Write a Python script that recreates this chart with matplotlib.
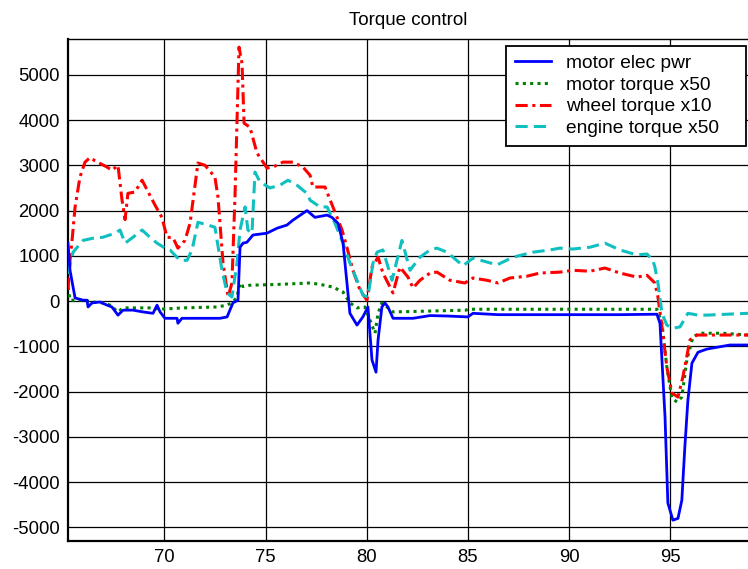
import matplotlib
matplotlib.use("Agg")
import matplotlib.pyplot as plt

# ---- data ----
title = "Torque control"
labels = ["motor elec pwr", "motor torque x50", "wheel torque x10", "engine torque x50"]

pwr_x = [65.24, 65.34, 65.49, 65.59, 65.98, 66.18, 66.23, 66.43, 66.82, 67.17, 67.41, 67.71,
         67.96, 68.45, 68.95, 69.44, 69.64, 69.79, 70.03, 70.63, 70.67, 70.87, 71.76, 72.75,
         73.10, 73.24, 73.39, 73.64, 73.74, 73.89, 74.08, 74.38, 75.07, 75.57, 76.06, 76.36,
         77.05, 77.44, 78.04, 78.28, 78.58, 78.83, 79.17, 79.52, 79.81, 80.06, 80.26, 80.46,
         80.56, 80.75, 80.90, 81.05, 81.30, 82.29, 83.13, 84.0, 85.0, 85.25, 86.5, 88.0,
         89.5, 91.0, 92.5, 94.34, 94.49, 94.74, 94.88, 95.13, 95.38, 95.57, 95.72, 95.87,
         96.07, 96.37, 96.81, 97.31, 97.95, 98.84]
pwr_y = [1280, 680, 310, 70, 20, 20, -130, -40, -20, -90, -130, -310,
         -200, -200, -240, -270, -90, -240, -380, -380, -490, -380, -380, -380,
         -350, -200, -40, 20, 1190, 1280, 1300, 1460, 1500, 1610, 1680, 1790,
         2000, 1850, 1900, 1850, 1720, 1280, -270, -530, -350, -130, -1300, -1570,
         -860, -130, -40, -130, -380, -380, -320, -330, -350, -270, -300, -300,
         -300, -300, -300, -290, -490, -2560, -4460, -4840, -4800, -4400, -3220, -2190,
         -1370, -1130, -1060, -1020, -970, -970]

mtq_x = [65.24, 65.34, 65.98, 66.48, 66.97, 67.32, 67.71, 67.96, 68.45, 69.29, 69.79, 70.92,
         72.60, 73.10, 73.39, 73.59, 73.74, 73.89, 74.23, 75.71, 77.20, 77.69, 78.33, 78.83,
         79.17, 79.52, 79.91, 80.16, 80.41, 80.56, 80.75, 81.00, 81.30, 83.13, 84.9, 85.0,
         94.34, 94.59, 94.83, 95.08, 95.33, 95.57, 95.82, 96.12, 96.46, 97.60, 98.84]
mtq_y = [310, 20, 20, -20, -40, -90, -240, -150, -150, -150, -180, -150,
         -130, -90, -20, 90, 400, 320, 350, 370, 400, 370, 310, 200,
         -40, -150, -130, -420, -710, -270, -40, -130, -240, -220, -200, -180,
         -180, -490, -1460, -2140, -2230, -2120, -1300, -790, -710, -710, -750]

whl_x = [65.24, 65.34, 65.44, 65.59, 65.83, 66.08, 66.33, 66.57, 67.17, 67.41, 67.71, 67.91,
         68.06, 68.20, 68.55, 68.90, 69.54, 69.88, 70.13, 70.43, 70.67, 71.02, 71.27, 71.66,
         72.01, 72.50, 72.65, 72.90, 73.15, 73.34, 73.49, 73.69, 73.84, 73.94, 74.23, 74.58,
         75.07, 75.37, 75.86, 76.36, 76.85, 77.20, 77.34, 77.94, 78.33, 78.78, 79.02, 79.32,
         79.67, 80.01, 80.26, 80.56, 80.80, 81.30, 81.64, 82.04, 82.29, 82.63, 83.13, 83.47,
         84.11, 84.85, 85.25, 85.94, 86.49, 87.08, 87.92, 88.56, 89.55, 90.19, 91.03, 91.77,
         92.51, 93.35, 93.85, 94.24, 94.39, 94.59, 94.83, 95.08, 95.38, 95.62, 95.97, 96.32,
         97.11, 98.84]
whl_y = [250, 900, 1340, 2080, 2740, 3070, 3170, 3100, 2960, 2890, 3000, 2230,
         1800, 2380, 2410, 2670, 2120, 1850, 1410, 1400, 1170, 1340, 1720, 3050,
         3000, 2740, 2300, 840, 90, 400, 2300, 5610, 5250, 3930, 3840, 3270,
         2940, 2960, 3070, 3070, 2960, 2780, 2520, 2520, 2080, 1570, 1190, 680,
         240, 20, 750, 970, 620, 180, 750, 530, 290, 460, 620, 640,
         460, 400, 510, 460, 400, 510, 550, 620, 640, 680, 660, 730,
         620, 530, 570, 400, 90, -570, -1460, -2030, -2120, -1680, -860, -750,
         -750, -750]

eng_x = [65.24, 65.49, 65.98, 66.48, 66.97, 67.56, 67.81, 68.06, 68.45, 68.90, 69.29, 69.64,
         70.03, 70.28, 70.77, 71.12, 71.37, 71.66, 72.16, 72.50, 72.85, 73.10, 73.34, 73.59,
         73.74, 73.99, 74.13, 74.33, 74.48, 74.73, 75.22, 75.71, 76.11, 76.55, 77.05, 77.20,
         77.69, 78.04, 78.43, 78.83, 79.17, 79.52, 79.81, 80.06, 80.31, 80.51, 80.80, 81.25,
         81.74, 82.14, 82.63, 83.13, 83.47, 83.97, 84.76, 85.25, 86.44, 87.23, 88.21, 89.05,
         89.55, 90.19, 91.03, 91.77, 92.51, 93.35, 93.85, 94.14, 94.24, 94.39, 94.59, 94.83,
         95.13, 95.48, 95.87, 96.37, 96.81, 98.84]
eng_y = [600, 1080, 1340, 1390, 1410, 1500, 1570, 1280, 1410, 1570, 1410, 1280,
         1170, 1130, 900, 900, 1130, 1740, 1680, 1630, 680, 180, 90, 840,
         1570, 2080, 1570, 1500, 2850, 2630, 2500, 2560, 2670, 2560, 2380, 2230,
         2080, 2080, 1720, 1280, 840, 460, 130, 90, 840, 1080, 1130, 460,
         1340, 680, 970, 1130, 1170, 1080, 780, 950, 800, 970, 1080, 1130,
         1170, 1150, 1190, 1280, 1130, 1020, 1040, 900, 750, 400, -270, -530,
         -600, -570, -270, -310, -310, -270]

yticks = [-5000, -4000, -3000, -2000, -1000, 0, 1000, 2000, 3000, 4000, 5000]
xticks = [70, 75, 80, 85, 90, 95]

# ---- drawing ----
plt.rcParams['font.family'] = ['Liberation Sans', 'DejaVu Sans']
plt.rcParams['axes.unicode_minus'] = False
fig = plt.figure(figsize=(7.48, 5.69), dpi=100)
ax = fig.add_axes([68 / 748, 28 / 569, 1 - 68 / 748, (541 - 39) / 569])

ax.plot(pwr_x, pwr_y, color='#0000ff', lw=2.0, label=labels[0], zorder=4)
ax.plot(mtq_x, mtq_y, color='#008000', lw=2.2, linestyle=(0, (1, 1.4)), label=labels[1], zorder=3)
ax.plot(whl_x, whl_y, color='#ff0000', lw=2.2, linestyle=(0, (4, 1.5, 1, 1.5)), label=labels[2], zorder=3)
ax.plot(eng_x, eng_y, color='#10c0c0', lw=2.2, linestyle=(0, (4, 2)), label=labels[3], zorder=3)

ax.set_xlim(65.24, 98.84)
ax.set_ylim(-5300, 5790)
ax.set_xticks(xticks)
ax.set_yticks(yticks)
ax.grid(True, color='black', lw=0.9, linestyle='-')
ax.set_axisbelow(True)
ax.tick_params(direction='in', length=0, labelsize=13.3, pad=6)
ax.spines['right'].set_visible(False)
ax.spines['left'].set_linewidth(1.6)
ax.spines['bottom'].set_linewidth(1.6)
ax.spines['top'].set_linewidth(1.0)

ax.set_title(title, fontsize=13.5, pad=10)

leg_x0 = (506 - 68) / 680
leg_w = (746 - 506) / 680
leg = ax.legend(loc='upper left', bbox_to_anchor=(leg_x0, 0.786, leg_w, 0.2), mode='expand',
                borderaxespad=0, fontsize=13.8, handlelength=1.9, handletextpad=0.8,
                labelspacing=0.22, borderpad=0.45, fancybox=False, framealpha=1,
                edgecolor='black')
leg.get_frame().set_linewidth(1.3)

fig.savefig("out.png", dpi=100)
